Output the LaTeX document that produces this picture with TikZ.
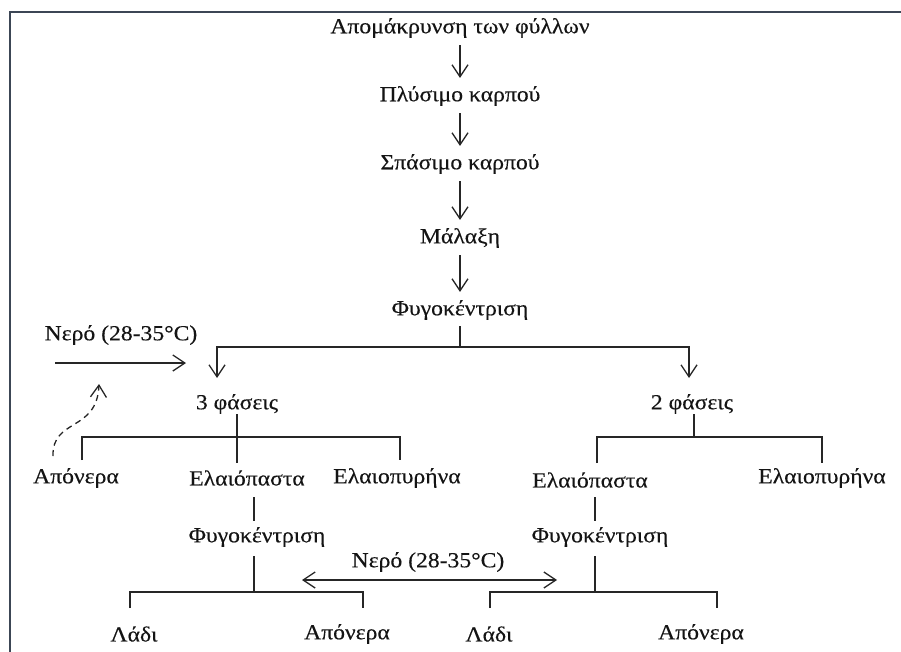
\documentclass[tikz,border=0pt]{standalone}
\usepackage{fontspec}
\setmainfont{Liberation Serif}[FakeStretch=1.1,FakeBold=0.3]
\usetikzlibrary{arrows.meta}
\begin{document}
\begin{tikzpicture}[x=1pt,y=-1pt,
 lbl/.style={inner sep=0pt, minimum height=18pt, font=\fontsize{21.5}{25}\selectfont, text=black!92},
 ln/.style={line width=1.3pt, draw=black!85},
 tip/.tip={Straight Barb[length=12pt,width=16pt,line width=1.3pt]},
 arr/.style={ln, -tip},
]
\useasboundingbox (0,0) rectangle (901,652);
\begin{scope}
\clip (0,0) rectangle (901,652);
\draw[line width=2pt, draw={rgb,255:red,60;green,70;blue,85}] (10,12) rectangle (920,680);
\end{scope}
% nodes
\node[lbl] (t1) at (460,28) {Απομάκρυνση των φύλλων};
\node[lbl] (t2) at (460,96) {Πλύσιμο καρπού};
\node[lbl] (t3) at (460,164) {Σπάσιμο καρπού};
\node[lbl] (t4) at (460,238) {Μάλαξη};
\node[lbl] (t5) at (460,310) {Φυγοκέντριση};
\node[lbl] (w1) at (121,335) {Νερό (28-35°C)};
\node[lbl] (p3) at (237,404) {3 φάσεις};
\node[lbl] (p2) at (692,404) {2 φάσεις};
\node[lbl] (a1) at (76,478) {Απόνερα};
\node[lbl] (e1) at (247,478) {Ελαιόπαστα};
\node[lbl] (y1) at (397,478) {Ελαιοπυρήνα};
\node[lbl] (e2) at (590,480) {Ελαιόπαστα};
\node[lbl] (y2) at (822,478) {Ελαιοπυρήνα};
\node[lbl] (f1) at (257,537) {Φυγοκέντριση};
\node[lbl] (f2) at (600,537) {Φυγοκέντριση};
\node[lbl] (w2) at (428,562) {Νερό (28-35°C)};
\node[lbl] (l1) at (134,634) {Λάδι};
\node[lbl] (a2) at (347,634) {Απόνερα};
\node[lbl] (l2) at (489,634) {Λάδι};
\node[lbl] (a3) at (701,634) {Απόνερα};
% main chain
\draw[arr] ([yshift=-7pt]t1.south) -- ([yshift=8pt]t2.north);
\draw[arr] ([yshift=-7pt]t2.south) -- ([yshift=8pt]t3.north);
\draw[arr] ([yshift=-7pt]t3.south) -- ([yshift=8pt]t4.north);
\draw[arr] ([yshift=-7pt]t4.south) -- ([yshift=8pt]t5.north);
% split
\coordinate (j0) at (460,347);
\coordinate (tl) at (217,378);
\coordinate (tr) at (689,378);
\draw[ln] ([yshift=-6pt]t5.south) -- (j0);
\draw[arr] (j0) -| (tl);
\draw[arr] (j0) -| (tr);
% water in
\coordinate (ws) at (55,363);
\coordinate (we) at (186,363);
\draw[arr] (ws) -- (we);
\coordinate (ds) at (53,456);
\coordinate (de) at (99,384);
\draw[arr, dash pattern=on 6pt off 4.5pt] (ds) .. controls (52,418) and (97,432) .. (de);
% 3 phases
\coordinate (b3) at (237,463);
\draw[ln] (p3.south) -- (b3);
\coordinate (la) at (82,460);
\coordinate (lb) at (400,460);
\draw[ln] (la) -- (82,437) -- (400,437) -- (lb);
% 2 phases
\coordinate (b2) at (694,437);
\draw[ln] ([xshift=2pt]p2.south) -- (b2);
\coordinate (ra) at (597,463);
\coordinate (rb) at (822,463);
\draw[ln] (ra) -- (597,437) -- (822,437) -- (rb);
% left centrifuge
\draw[ln] ([xshift=7pt,yshift=-10pt]e1.south) -- ([xshift=-3pt,yshift=6pt]f1.north);
\coordinate (c1) at (254,592);
\draw[ln] ([xshift=-3pt,yshift=-9pt]f1.south) -- (c1);
\coordinate (c1a) at (130,608);
\coordinate (c1b) at (363,608);
\draw[ln] (c1a) -- (130,592) -- (363,592) -- (c1b);
% right centrifuge
\draw[ln] ([xshift=5pt,yshift=-8pt]e2.south) -- ([xshift=-5pt,yshift=6pt]f2.north);
\coordinate (c2) at (595,592);
\draw[ln] ([xshift=-5pt,yshift=-9pt]f2.south) -- (c2);
\coordinate (c2a) at (490,608);
\coordinate (c2b) at (717,608);
\draw[ln] (c2a) -- (490,592) -- (717,592) -- (c2b);
% middle water
\coordinate (ml) at (302,580);
\coordinate (mr) at (557,580);
\draw[ln, tip-tip] (ml) -- (mr);
\end{tikzpicture}
\end{document}
